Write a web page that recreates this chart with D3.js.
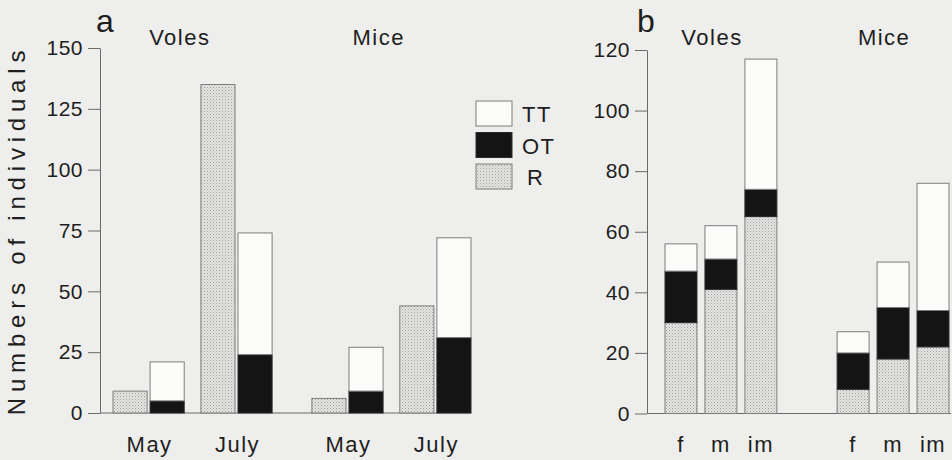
<!DOCTYPE html>
<html><head><meta charset="utf-8">
<script src="https://cdn.jsdelivr.net/npm/d3@7"></script>
<style>
html,body{margin:0;padding:0;background:#eeeeec;}
svg{display:block;font-family:"Liberation Sans",Arial,sans-serif;}
</style></head>
<body>
<svg id="chart" width="952" height="460"></svg>
<script>
// ---- data ----
const species = ["Voles", "Mice"];
const monthsA = ["May", "July"];
const aVolesR = [9, 135];
const aVolesOT = [5, 24];
const aVolesTT = [16, 50];
const aMiceR = [6, 44];
const aMiceOT = [9, 31];
const aMiceTT = [18, 41];

const catsB = ["f", "m", "im"];
const bVolesR = [30, 41, 65];
const bVolesOT = [17, 10, 9];
const bVolesTT = [9, 11, 43];
const bMiceR = [8, 18, 22];
const bMiceOT = [12, 17, 12];
const bMiceTT = [7, 15, 42];

const ticksA = [0, 25, 50, 75, 100, 125, 150];
const ticksB = [0, 20, 40, 60, 80, 100, 120];
const legendKeys = ["TT", "OT", "R"];
const yTitle = "Numbers of individuals";

// ---- setup ----
const svg = d3.select("#chart");
const textCol = "#1e1e1e";
const strokeCol = "#7d7d7d";

const defs = svg.append("defs");
const pat = defs.append("pattern").attr("id", "stip").attr("patternUnits", "userSpaceOnUse")
  .attr("width", 3).attr("height", 3);
pat.append("rect").attr("width", 3).attr("height", 3).attr("fill", "#e4e4e2");
pat.append("rect").attr("x", 0).attr("y", 0).attr("width", 1).attr("height", 1).attr("fill", "#9e9e9c");
pat.append("rect").attr("x", 1.5).attr("y", 1.5).attr("width", 1).attr("height", 1).attr("fill", "#b4b4b2");

const fills = {R: "url(#stip)", OT: "#141414", TT: "#fbfbfa"};

function drawAxis(g, y, ticks, x0) {
  const ax = d3.axisLeft(y).tickValues(ticks).tickSize(12).tickPadding(5).tickSizeOuter(0);
  const ag = g.append("g").attr("transform", `translate(${x0},0)`).call(ax);
  ag.select(".domain").attr("stroke", "#6a6a6a").attr("stroke-width", 1);
  ag.selectAll(".tick line").attr("stroke", "#6a6a6a");
  ag.selectAll(".tick text").attr("fill", textCol).style("font-size", "21px")
    .style("font-family", "Liberation Sans, Arial, sans-serif").attr("letter-spacing", "0.5px");
}

function rectBar(g, x, w, y, y0, y1, key) {
  g.append("rect").attr("x", x).attr("width", w)
    .attr("y", y(y1)).attr("height", y(y0) - y(y1))
    .attr("fill", fills[key]).attr("stroke", key === "OT" ? "#2a2a2a" : strokeCol).attr("stroke-width", 1);
}

const labelStyle = s => s.attr("fill", textCol).style("font-size", "22px").attr("letter-spacing", "1.5px");

// ---- Panel a ----
const gA = svg.append("g");
const yA = d3.scaleLinear().domain([0, 150]).range([413, 48]);
const xSpA = d3.scaleBand().domain(species).range([113, 471]).paddingInner(0.2).paddingOuter(0);
const xMoA = d3.scaleBand().domain(monthsA).range([0, xSpA.bandwidth()]).paddingInner(0.19);
const xTyA = d3.scaleBand().domain(["R", "T"]).range([0, xMoA.bandwidth()]).paddingInner(0.08);

const dataA = {
  Voles: {R: aVolesR, OT: aVolesOT, TT: aVolesTT},
  Mice: {R: aMiceR, OT: aMiceOT, TT: aMiceTT}
};
gA.append("line").attr("x1", 100).attr("x2", xSpA.range()[1]).attr("y1", yA(0)).attr("y2", yA(0))
  .attr("stroke", "#6a6a6a");
species.forEach(sp => {
  const d = dataA[sp];
  const rows = monthsA.map((m, i) => ({month: m, OT: d.OT[i], TT: d.TT[i]}));
  const st = d3.stack().keys(["OT", "TT"])(rows);
  monthsA.forEach((m, i) => {
    const bx = xSpA(sp) + xMoA(m);
    rectBar(gA, bx + xTyA("R"), xTyA.bandwidth(), yA, 0, d.R[i], "R");
    st.forEach(layer => {
      rectBar(gA, bx + xTyA("T"), xTyA.bandwidth(), yA, layer[i][0], layer[i][1], layer.key);
    });
    gA.append("text").attr("x", bx + xMoA.bandwidth() / 2 + 1).attr("y", 452)
      .attr("text-anchor", "middle").text(m).call(labelStyle);
  });
  gA.append("text").attr("x", xSpA(sp) + xSpA.bandwidth() * 0.42).attr("y", 45)
    .attr("text-anchor", "middle").text(sp).call(labelStyle);
});
drawAxis(gA, yA, ticksA, 100);
gA.append("text").attr("x", 96).attr("y", 32).text("a").attr("fill", textCol).style("font-size", "32px");

// legend
const lg = gA.append("g");
legendKeys.forEach((k, i) => {
  const yy = 101 + i * 31.5;
  lg.append("rect").attr("x", 476).attr("y", yy).attr("width", 36).attr("height", 25)
    .attr("fill", fills[k]).attr("stroke", k === "OT" ? "#2a2a2a" : strokeCol);
  lg.append("text").attr("x", k === "R" ? 527 : 522).attr("y", yy + 21).text(k).call(labelStyle);
});

// y title
svg.append("text").attr("transform", "translate(25,230) rotate(-90)").attr("text-anchor", "middle")
  .text(yTitle).attr("fill", textCol).style("font-size", "24px").attr("letter-spacing", "5.8px");

// ---- Panel b ----
const gB = svg.append("g");
const yB = d3.scaleLinear().domain([0, 120]).range([413.5, 50]);
const xSpB = d3.scaleBand().domain(species).range([665, 949]).paddingInner(0.35).paddingOuter(0);
const xCatB = d3.scaleBand().domain(catsB).range([0, xSpB.bandwidth()]).paddingInner(0.2);
const dataB = {
  Voles: {R: bVolesR, OT: bVolesOT, TT: bVolesTT},
  Mice: {R: bMiceR, OT: bMiceOT, TT: bMiceTT}
};
gB.append("line").attr("x1", 647).attr("x2", 951).attr("y1", yB(0)).attr("y2", yB(0))
  .attr("stroke", "#6a6a6a");
species.forEach(sp => {
  const d = dataB[sp];
  const rows = catsB.map((c, i) => ({cat: c, R: d.R[i], OT: d.OT[i], TT: d.TT[i]}));
  const st = d3.stack().keys(["R", "OT", "TT"])(rows);
  catsB.forEach((c, i) => {
    const bx = xSpB(sp) + xCatB(c);
    st.forEach(layer => {
      rectBar(gB, bx, xCatB.bandwidth(), yB, layer[i][0], layer[i][1], layer.key);
    });
    gB.append("text").attr("x", bx + xCatB.bandwidth() / 2).attr("y", 452)
      .attr("text-anchor", "middle").text(c).call(labelStyle);
  });
  gB.append("text").attr("x", xSpB(sp) + xSpB.bandwidth() * 0.42).attr("y", 45)
    .attr("text-anchor", "middle").text(sp).call(labelStyle);
});
drawAxis(gB, yB, ticksB, 647);
gB.append("text").attr("x", 637).attr("y", 32).text("b").attr("fill", textCol).style("font-size", "32px");
</script>
</body></html>
